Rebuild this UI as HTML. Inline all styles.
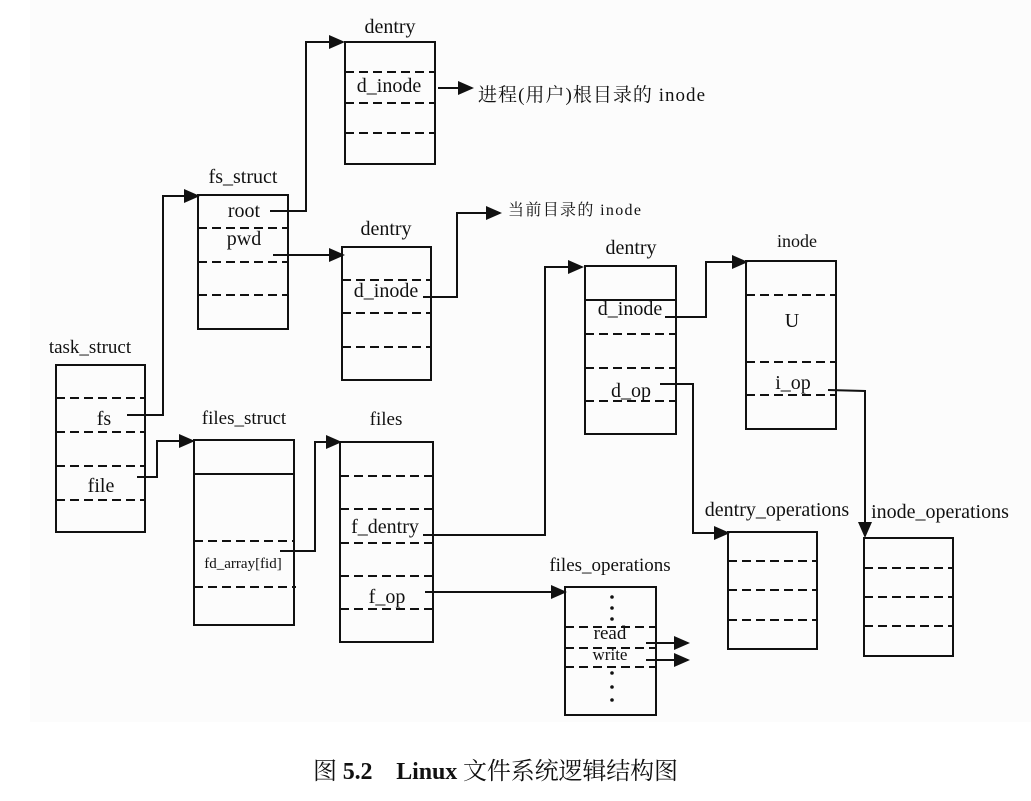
<!DOCTYPE html>
<html><head><meta charset="utf-8"><style>
html,body{margin:0;padding:0;background:#fff}
svg{display:block}
text{font-family:"Liberation Serif","Noto Serif CJK SC",serif;fill:#111}
</style></head><body>
<svg width="1031" height="801" viewBox="0 0 1031 801" xmlns="http://www.w3.org/2000/svg">
<rect x="30" y="0" width="1001" height="722" fill="#fcfcfc"/>
<defs>
<marker id="a" markerWidth="16" markerHeight="14" refX="14" refY="7" orient="auto" markerUnits="userSpaceOnUse"><path d="M0,0 L16,7 L0,14 z" fill="#111"/></marker>
</defs>
<g stroke="#111" stroke-width="2" fill="none">
<rect x="56" y="365" width="89" height="167"/>
<rect x="198" y="195" width="90" height="134"/>
<rect x="345" y="42" width="90" height="122"/>
<rect x="342" y="247" width="89" height="133"/>
<rect x="194" y="440" width="100" height="185"/>
<rect x="340" y="442" width="93" height="200"/>
<rect x="585" y="266" width="91" height="168"/>
<rect x="746" y="261" width="90" height="168"/>
<rect x="728" y="532" width="89" height="117"/>
<rect x="864" y="538" width="89" height="118"/>
<rect x="565" y="587" width="91" height="128"/>
<line x1="194" y1="474" x2="294" y2="474"/>
<line x1="585" y1="300" x2="676" y2="300"/>
</g>
<g stroke="#111" stroke-width="2" fill="none" stroke-dasharray="9,5">
<line x1="56" y1="398" x2="145" y2="398"/><line x1="56" y1="432" x2="145" y2="432"/><line x1="56" y1="466" x2="145" y2="466"/><line x1="56" y1="500" x2="145" y2="500"/>
<line x1="198" y1="228" x2="288" y2="228"/><line x1="198" y1="262" x2="288" y2="262"/><line x1="198" y1="295" x2="288" y2="295"/>
<line x1="345" y1="72" x2="435" y2="72"/><line x1="345" y1="103" x2="435" y2="103"/><line x1="345" y1="133" x2="435" y2="133"/>
<line x1="342" y1="280" x2="431" y2="280"/><line x1="342" y1="313" x2="431" y2="313"/><line x1="342" y1="347" x2="431" y2="347"/>
<line x1="194" y1="541" x2="294" y2="541"/><line x1="194" y1="587" x2="296" y2="587"/>
<line x1="340" y1="476" x2="433" y2="476"/><line x1="340" y1="509" x2="433" y2="509"/><line x1="340" y1="543" x2="433" y2="543"/><line x1="340" y1="576" x2="433" y2="576"/><line x1="340" y1="609" x2="433" y2="609"/>
<line x1="585" y1="334" x2="676" y2="334"/><line x1="585" y1="368" x2="676" y2="368"/><line x1="585" y1="401" x2="676" y2="401"/>
<line x1="746" y1="295" x2="836" y2="295"/><line x1="746" y1="362" x2="836" y2="362"/><line x1="746" y1="395" x2="836" y2="395"/>
<line x1="728" y1="561" x2="817" y2="561"/><line x1="728" y1="590" x2="817" y2="590"/><line x1="728" y1="620" x2="817" y2="620"/>
<line x1="864" y1="568" x2="953" y2="568"/><line x1="864" y1="597" x2="953" y2="597"/><line x1="864" y1="626" x2="953" y2="626"/>
<line x1="565" y1="627" x2="656" y2="627"/><line x1="565" y1="648" x2="656" y2="648"/><line x1="565" y1="667" x2="656" y2="667"/>
</g>
<g stroke="#111" stroke-width="2" fill="none" marker-end="url(#a)">
<polyline points="127,415 163,415 163,196 198,196"/>
<polyline points="137,477 157,477 157,441 193,441"/>
<polyline points="270,211 306,211 306,42 343,42"/>
<polyline points="438,88 472,88"/>
<polyline points="273,255 343,255"/>
<polyline points="423,297 457,297 457,213 500,213"/>
<polyline points="280,551 315,551 315,442 340,442"/>
<polyline points="423,535 545,535 545,267 582,267"/>
<polyline points="665,317 706,317 706,262 746,262"/>
<polyline points="828,390 865,391 865,536"/>
<polyline points="660,384 693,384 693,533 728,533"/>
<polyline points="425,592 565,592"/>
<polyline points="646,643 688,643"/>
<polyline points="646,660 688,660"/>
</g>
<g fill="#111">
<circle cx="612" cy="597" r="1.8"/><circle cx="612" cy="608" r="1.8"/><circle cx="612" cy="619" r="1.8"/>
<circle cx="612" cy="673" r="1.8"/><circle cx="612" cy="687" r="1.8"/><circle cx="612" cy="700" r="1.8"/>
</g>
<g font-size="20" text-anchor="middle">
<text x="90" y="353" font-size="19">task_struct</text>
<text x="104" y="425">fs</text>
<text x="101" y="492">file</text>
<text x="243" y="183">fs_struct</text>
<text x="244" y="217">root</text>
<text x="244" y="245">pwd</text>
<text x="390" y="33">dentry</text>
<text x="389" y="92">d_inode</text>
<text x="386" y="235">dentry</text>
<text x="386" y="297">d_inode</text>
<text x="244" y="424" font-size="19">files_struct</text>
<text x="243" y="568" font-size="15">fd_array[fid]</text>
<text x="386" y="425" font-size="19">files</text>
<text x="385" y="533">f_dentry</text>
<text x="387" y="603">f_op</text>
<text x="631" y="254">dentry</text>
<text x="630" y="315">d_inode</text>
<text x="631" y="397">d_op</text>
<text x="797" y="247" font-size="18">inode</text>
<text x="792" y="327">U</text>
<text x="793" y="389">i_op</text>
<text x="777" y="516" font-size="20">dentry_operations</text>
<text x="940" y="518" font-size="20">inode_operations</text>
<text x="610" y="571" font-size="19">files_operations</text>
<text x="610" y="639" font-size="19">read</text>
<text x="610" y="660" font-size="17">write</text>
</g>
<text x="478" y="101" font-size="19" textLength="227">进程(用户)根目录的 inode</text>
<text x="508" y="215" font-size="16" textLength="133">当前目录的 inode</text>
<text x="313" y="779" font-size="24" textLength="365">图 <tspan font-weight="bold">5.2</tspan>　<tspan font-weight="bold">Linux</tspan> 文件系统逻辑结构图</text>
</svg>
</body></html>
